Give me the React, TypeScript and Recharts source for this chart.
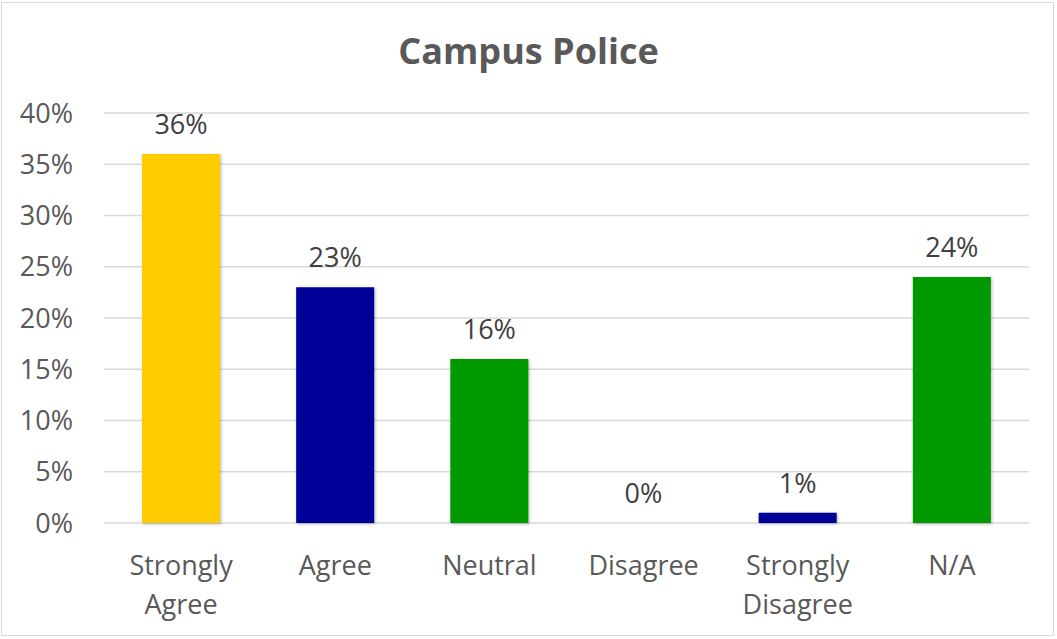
import React from "react";
import { BarChart, Bar, XAxis, YAxis, CartesianGrid, Cell, LabelList } from "recharts";

const categories = ["Strongly Agree", "Agree", "Neutral", "Disagree", "Strongly Disagree", "N/A"];
const values = [36, 23, 16, 0, 1, 24];
const barColors = ["#FFCC00", "#000099", "#009900", "#000099", "#000099", "#009900"];
const yTicks = [0, 5, 10, 15, 20, 25, 30, 35, 40];
const title = "Campus Police";

const data = categories.map((c, i) => ({ name: c, value: values[i] }));

const FONT = "'Open Sans', sans-serif";
const FS = 27;

const XTick = (props: any) => {
  const { x, y, payload } = props;
  const words = String(payload.value).split(" ");
  return (
    <g transform={`translate(${x},${y})`}>
      {words.map((w: string, i: number) => (
        <text
          key={i}
          x={0}
          y={i * 39}
          textAnchor="middle"
          fill="#595959"
          fontSize={FS}
          fontFamily={FONT}
        >
          {w}
        </text>
      ))}
    </g>
  );
};

const ShadowBar = (props: any) => {
  const { x, y, width, height, fill } = props;
  if (!height || height <= 0) return <g />;
  return (
    <g>
      <defs>
        <filter id="barShadow" x="-20%" y="-20%" width="140%" height="140%">
          <feDropShadow dx="1" dy="1" stdDeviation="1.5" floodColor="#000" floodOpacity="0.3" />
        </filter>
      </defs>
      <rect x={x} y={y} width={width} height={height} fill={fill} filter="url(#barShadow)" />
    </g>
  );
};

export default function App() {
  return (
    <div style={{ position: "absolute", left: 0, top: 0, width: 1057, height: 639, background: "#fff" }}>
      <div
        style={{
          position: "absolute",
          left: 1,
          top: 2,
          width: 1053,
          height: 634,
          border: "1px solid #D9D9D9",
          boxSizing: "border-box",
        }}
      />
      <div
        style={{
          position: "absolute",
          left: 0,
          top: 26,
          width: 1057,
          textAlign: "center",
          fontFamily: FONT,
          fontWeight: 700,
          fontSize: 36,
          color: "#595959",
          lineHeight: "normal",
        }}
      >
        {title}
      </div>
      <div style={{ position: "absolute", left: 0, top: 0 }}>
        <BarChart
          width={1057}
          height={639}
          data={data}
          margin={{ top: 113, right: 28, bottom: 0, left: 0 }}
        >
          <CartesianGrid vertical={false} stroke="#D9D9D9" strokeWidth={1.5} />
          <XAxis
            dataKey="name"
            axisLine={false}
            tickLine={false}
            interval={0}
            tick={<XTick />}
            tickMargin={46}
            height={116}
          />
          <YAxis
            domain={[0, 40]}
            ticks={yTicks}
            axisLine={false}
            tickLine={false}
            tickSize={0}
            tickMargin={31}
            width={104}
            interval={0}
            tickFormatter={(v: number) => `${v}%`}
            tick={{ fill: "#595959", fontSize: FS, fontFamily: FONT }}
          />
          <Bar dataKey="value" barSize={78} isAnimationActive={false} shape={<ShadowBar />}>
            {data.map((d, i) => (
              <Cell key={d.name} fill={barColors[i]} />
            ))}
            <LabelList
              dataKey="value"
              position="top"
              offset={20}
              formatter={(v: any) => `${v}%`}
              fill="#404040"
              fontSize={FS}
              fontFamily={FONT}
            />
          </Bar>
        </BarChart>
      </div>
    </div>
  );
}
